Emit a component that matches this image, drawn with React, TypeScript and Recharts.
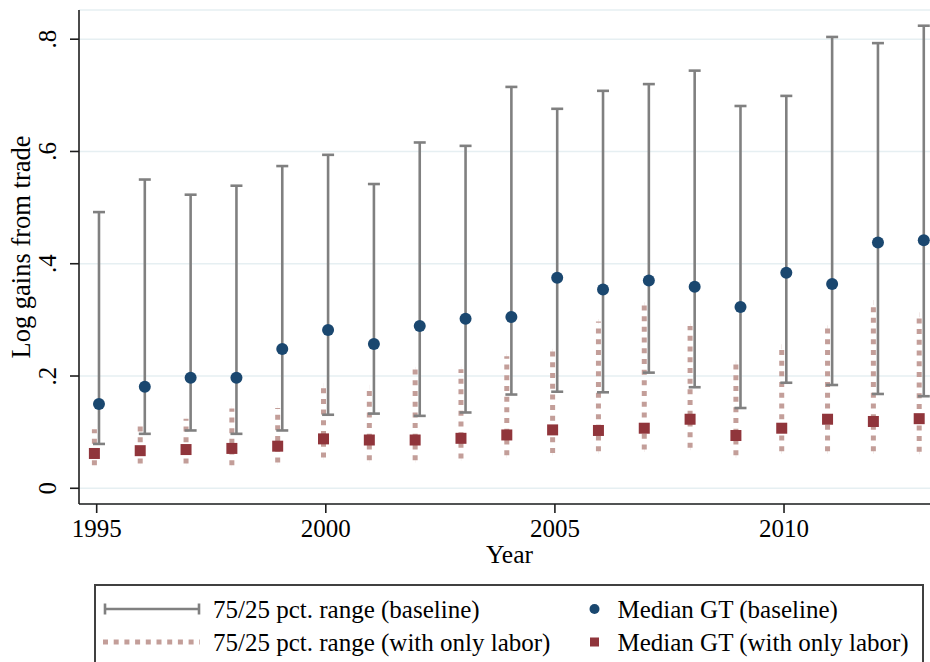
import React from 'react';
import {
  ScatterChart,
  Scatter,
  ErrorBar,
  XAxis,
  YAxis,
  CartesianGrid,
  Legend,
} from 'recharts';

// Gains from trade by year: median with the 25th-75th percentile range
const years = [
  1995, 1996, 1997, 1998, 1999, 2000, 2001, 2002, 2003, 2004,
  2005, 2006, 2007, 2008, 2009, 2010, 2011, 2012, 2013,
];

const baseMedian = [
  0.150, 0.181, 0.197, 0.197, 0.248, 0.282, 0.257, 0.289, 0.302, 0.305,
  0.375, 0.354, 0.370, 0.359, 0.323, 0.384, 0.364, 0.438, 0.442,
];
const baseP75 = [
  0.492, 0.550, 0.523, 0.539, 0.574, 0.594, 0.542, 0.616, 0.610, 0.715,
  0.676, 0.708, 0.720, 0.744, 0.681, 0.699, 0.804, 0.793, 0.824,
];
const baseP25 = [
  0.079, 0.097, 0.103, 0.097, 0.103, 0.131, 0.133, 0.129, 0.135, 0.167,
  0.172, 0.171, 0.206, 0.180, 0.143, 0.188, 0.184, 0.168, 0.164,
];

const laborMedian = [
  0.062, 0.067, 0.069, 0.071, 0.075, 0.088, 0.086, 0.086, 0.089, 0.095,
  0.104, 0.103, 0.107, 0.123, 0.094, 0.107, 0.123, 0.119, 0.124,
];
const laborP75 = [
  0.105, 0.112, 0.124, 0.142, 0.143, 0.183, 0.180, 0.212, 0.212, 0.235,
  0.244, 0.297, 0.327, 0.289, 0.223, 0.252, 0.286, 0.331, 0.309,
];
const laborP25 = [
  0.041, 0.044, 0.044, 0.041, 0.046, 0.055, 0.050, 0.050, 0.053, 0.059,
  0.063, 0.066, 0.069, 0.072, 0.059, 0.066, 0.066, 0.066, 0.065,
];

const xTicks = [1995, 2000, 2005, 2010];
const yTicks = [0, 0.2, 0.4, 0.6, 0.8];

const legendLabels = {
  baseRange: '75/25 pct. range (baseline)',
  laborRange: '75/25 pct. range (with only labor)',
  baseMedian: 'Median GT (baseline)',
  laborMedian: 'Median GT (with only labor)',
};

const SERIF = '"Liberation Serif", "Times New Roman", serif';
const NAVY = '#1a476f';
const MAROON = '#90353b';
const RANGE_GRAY = '#808080';
const RANGE_PINK = '#c39e99';
const DASH = '5 5.7';

// the two series sit a little either side of the year
const JITTER = 0.05;

const baseData = years.map((year, i) => ({
  x: year + JITTER,
  y: baseMedian[i],
  err: [baseMedian[i] - baseP25[i], baseP75[i] - baseMedian[i]],
}));

const laborData = years.map((year, i) => ({
  x: year - JITTER,
  y: laborMedian[i],
  err: [laborMedian[i] - laborP25[i], laborP75[i] - laborMedian[i]],
}));

const fmtY = (v: number) => (v === 0 ? '0' : v.toFixed(1).replace(/^0/, ''));

const YTick = ({ x, y, payload }: any) => (
  <text
    transform={`translate(${x}, ${y}) rotate(-90)`}
    textAnchor="middle"
    fontFamily={SERIF}
    fontSize={25}
    fill="#000"
  >
    {fmtY(payload.value)}
  </text>
);

const XTick = ({ x, y, payload }: any) => (
  <text x={x} y={y} textAnchor="middle" fontFamily={SERIF} fontSize={25} fill="#000">
    {payload.value}
  </text>
);

const NavyDot = (props: any) => <circle cx={props.cx} cy={props.cy} r={6} fill={NAVY} />;

const MaroonSquare = (props: any) => (
  <rect x={props.cx - 5.5} y={props.cy - 5.5} width={11} height={11} fill={MAROON} />
);

const LegendBox = () => (
  <svg width={830} height={100} style={{ display: 'block' }}>
    <rect x={1} y={1} width={828} height={130} fill="#fff" stroke="#404040" strokeWidth={2} />
    {/* row 1 */}
    <g stroke={RANGE_GRAY} strokeWidth={2.6}>
      <line x1={11} y1={25} x2={105} y2={25} />
      <line x1={11} y1={19.5} x2={11} y2={30.5} />
      <line x1={105} y1={19.5} x2={105} y2={30.5} />
    </g>
    <text x={119} y={25} dominantBaseline="central" fontFamily={SERIF} fontSize={25}>
      {legendLabels.baseRange}
    </text>
    <circle cx={500.5} cy={25} r={5} fill={NAVY} />
    <text x={523.5} y={25} dominantBaseline="central" fontFamily={SERIF} fontSize={25}>
      {legendLabels.baseMedian}
    </text>
    {/* row 2 */}
    <line x1={9} y1={58} x2={106} y2={58} stroke={RANGE_PINK} strokeWidth={5} strokeDasharray={DASH} />
    <text x={119} y={58} dominantBaseline="central" fontFamily={SERIF} fontSize={25}>
      {legendLabels.laborRange}
    </text>
    <rect x={496} y={53.5} width={9} height={9} fill={MAROON} />
    <text x={523.5} y={58} dominantBaseline="central" fontFamily={SERIF} fontSize={25}>
      {legendLabels.laborMedian}
    </text>
  </svg>
);

const GainsFromTradeChart = () => (
  <div
    style={{
      position: 'absolute',
      left: 0,
      top: 0,
      width: 930,
      height: 662,
      overflow: 'hidden',
      background: '#fff',
    }}
  >
    <ScatterChart width={960} height={662} margin={{ top: 10, right: 20, bottom: 0, left: 0 }}>
      <CartesianGrid vertical={false} stroke="#e6eff2" strokeWidth={1.5} />
      <XAxis
        type="number"
        dataKey="x"
        domain={[1994.614, 2013.404]}
        ticks={xTicks}
        allowDataOverflow
        height={158}
        tickSize={9}
        tickMargin={24}
        tick={<XTick />}
        axisLine={{ stroke: '#1e1e1e', strokeWidth: 1.6 }}
        tickLine={{ stroke: '#1e1e1e', strokeWidth: 1.6 }}
        label={{
          content: ({ viewBox }: any) => (
            <text
              x={viewBox.x + viewBox.width / 2}
              y={viewBox.y + 59}
              textAnchor="middle"
              fontFamily={SERIF}
              fontSize={25.5}
              fill="#000"
            >
              Year
            </text>
          ),
        }}
      />
      <YAxis
        type="number"
        dataKey="y"
        domain={[-0.028, 0.852]}
        ticks={yTicks}
        allowDataOverflow
        width={79}
        tickSize={9}
        tickMargin={14}
        tick={<YTick />}
        axisLine={{ stroke: '#1e1e1e', strokeWidth: 1.6 }}
        tickLine={{ stroke: '#1e1e1e', strokeWidth: 1.6 }}
        label={{
          content: ({ viewBox }: any) => (
            <text
              transform={`translate(30, ${viewBox.y + viewBox.height / 2 - 10}) rotate(-90)`}
              textAnchor="middle"
              fontFamily={SERIF}
              fontSize={26.5}
              fill="#000"
            >
              Log gains from trade
            </text>
          ),
        }}
      />
      <Legend
        layout="vertical"
        align="center"
        verticalAlign="middle"
        wrapperStyle={{ left: 94, top: 584, width: 830, height: 100 }}
        content={<LegendBox />}
      />
      <Scatter
        name={legendLabels.laborMedian}
        data={laborData}
        shape={<MaroonSquare />}
        isAnimationActive={false}
      >
        <ErrorBar
          dataKey="err"
          direction="y"
          width={0}
          stroke={RANGE_PINK}
          strokeWidth={5}
          strokeDasharray={DASH}
          isAnimationActive={false}
        />
      </Scatter>
      <Scatter
        name={legendLabels.baseMedian}
        data={baseData}
        shape={<NavyDot />}
        isAnimationActive={false}
      >
        <ErrorBar
          dataKey="err"
          direction="y"
          width={6}
          stroke={RANGE_GRAY}
          strokeWidth={2.6}
          isAnimationActive={false}
        />
      </Scatter>
    </ScatterChart>
  </div>
);

export default function App() {
  return <GainsFromTradeChart />;
}
